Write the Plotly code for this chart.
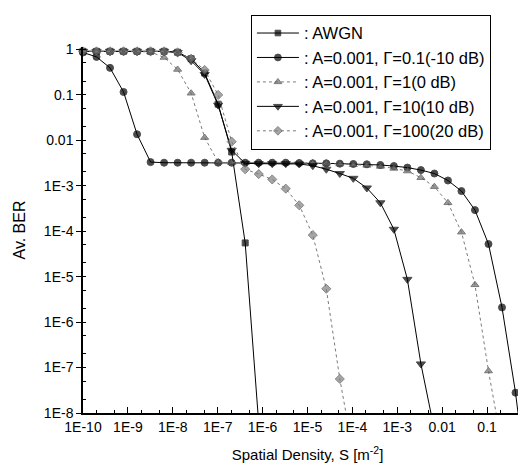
import plotly.graph_objects as go

# Spatial density grid (m^-2)
S = [1e-10, 2e-10, 4e-10, 8e-10, 1.6e-9, 3.2e-9, 6.4e-9, 1.28e-8, 2.56e-8, 5.12e-8,
     1.024e-7, 2.048e-7, 4.096e-7, 8.192e-7, 1.6384e-6, 3.2768e-6, 6.5536e-6, 1.31072e-5,
     2.62144e-5, 5.24288e-5, 1.048576e-4, 2.097152e-4, 4.194304e-4, 8.388608e-4,
     1.6777216e-3, 3.3554432e-3, 6.7108864e-3, 1.34217728e-2, 2.68435456e-2,
     5.36870912e-2, 0.1073741824, 0.2147483648, 0.4294967296, 0.8589934592]

awgn = [0.9, 0.9, 0.9, 0.9, 0.9, 0.9, 0.9, 0.86, 0.62, 0.3, 0.062, 5.5e-3, 5.5e-5, 6e-9]

g01 = [0.85, 0.68, 0.39, 0.115, 0.0135, 3.3e-3, 3.2e-3, 3.2e-3, 3.2e-3, 3.2e-3,
       3.2e-3, 3.2e-3, 3.2e-3, 3.2e-3, 3.2e-3, 3.2e-3, 3.15e-3, 3.1e-3, 3.1e-3, 3.05e-3,
       3.0e-3, 2.95e-3, 2.85e-3, 2.7e-3, 2.5e-3, 2.2e-3, 1.85e-3, 1.3e-3, 7.6e-4,
       2.9e-4, 5.2e-5, 2.1e-6, 2.8e-8, 1.1e-10]

g1 = [0.9, 0.9, 0.9, 0.9, 0.9, 0.88, 0.66, 0.36, 0.108, 0.0114, 3.3e-3, 3.2e-3,
      3.2e-3, 3.2e-3, 3.15e-3, 3.15e-3, 3.15e-3, 3.15e-3, 3.1e-3, 3.0e-3, 2.9e-3,
      2.8e-3, 2.65e-3, 2.4e-3, 2.1e-3, 1.5e-3, 9.5e-4, 4.2e-4, 9.5e-5, 6.6e-6,
      8.4e-8, 1.9e-9]

g10 = [0.9, 0.9, 0.9, 0.9, 0.9, 0.9, 0.9, 0.85, 0.56, 0.28, 0.059, 6.0e-3, 3.1e-3,
       3.05e-3, 3.05e-3, 3.05e-3, 3.0e-3, 2.75e-3, 2.3e-3, 1.85e-3, 1.45e-3, 8.9e-4,
       4.2e-4, 1.1e-4, 8.7e-6, 1.2e-7, 4.2e-9]

g100 = [0.9, 0.9, 0.9, 0.9, 0.9, 0.9, 0.9, 0.85, 0.62, 0.35, 0.099, 9.3e-3, 2.3e-3,
        1.8e-3, 1.37e-3, 8.6e-4, 3.7e-4, 8.2e-5, 5.4e-6, 5.6e-8, 1.3e-9]

x_tickvals = [1e-10, 1e-9, 1e-8, 1e-7, 1e-6, 1e-5, 1e-4, 1e-3, 1e-2, 1e-1]
x_ticktext = ["1E-10", "1E-9", "1E-8", "1E-7", "1E-6", "1E-5", "1E-4", "1E-3", "0.01", "0.1"]
y_tickvals = [1, 0.1, 0.01, 1e-3, 1e-4, 1e-5, 1e-6, 1e-7, 1e-8]
y_ticktext = ["1", "0.1", "0.01", "1E-3", "1E-4", "1E-5", "1E-6", "1E-7", "1E-8"]

G = "Γ"
names = [": AWGN", f": A=0.001, {G}=0.1(-10 dB)", f": A=0.001, {G}=1(0 dB)",
         f": A=0.001, {G}=10(10 dB)", f": A=0.001, {G}=100(20 dB)"]

styles = [
    dict(sym="square", size=6, fill="black", edge="black", lc="black", dash="solid"),
    dict(sym="circle", size=7, fill="black", edge="black", lc="black", dash="solid"),
    dict(sym="triangle-up", size=7, fill="#6e6e6e", edge="#444444", lc="#7a7a7a", dash="dot"),
    dict(sym="triangle-down", size=8, fill="black", edge="black", lc="black", dash="solid"),
    dict(sym="diamond", size=7, fill="#808080", edge="#555555", lc="#7a7a7a", dash="dot"),
]
series = [awgn, g01, g1, g10, g100]

fig = go.Figure()
for i, (vals, st, nm) in enumerate(zip(series, styles, names)):
    xs = S[:len(vals)]
    sizes = [st["size"] if v >= 1e-8 else 0 for v in vals]
    fig.add_trace(go.Scatter(
        x=xs, y=vals, name=nm, mode="lines+markers", legendgroup=str(i),
        cliponaxis=False,
        line=dict(color=st["lc"], width=1, dash=st["dash"]),
        marker=dict(symbol=st["sym"], size=sizes, color=st["fill"],
                    line=dict(color=st["edge"], width=1)),
    ))

font_family = "Liberation Sans, Arial, sans-serif"
fig.update_layout(
    width=526, height=463,
    margin=dict(l=75, r=2, t=39, b=58),
    paper_bgcolor="white", plot_bgcolor="white",
    font=dict(family=font_family, size=13, color="black"),
    showlegend=True,
    legend=dict(x=0.374, y=1.088, xanchor="left", yanchor="top",
                bordercolor="black", borderwidth=1, bgcolor="white",
                font=dict(size=16.5, family=font_family), itemwidth=42,
                tracegroupgap=0),
    xaxis=dict(type="log", range=[-10, 0], showgrid=False, zeroline=False,
               showline=True, linecolor="black", linewidth=1.5,
               tickvals=x_tickvals, ticktext=x_ticktext,
               ticks="inside", ticklen=6, tickcolor="black", tickwidth=1,
               minor=dict(ticks="inside", ticklen=3, tickcolor="black", showgrid=False),
               title=dict(text="Spatial Density, S [m<sup>-2</sup>]", font=dict(size=15), standoff=16),
               tickfont=dict(size=14)),
    yaxis=dict(type="log", range=[-8, 0.05], showgrid=False, zeroline=False,
               showline=True, linecolor="black", linewidth=1.5,
               tickvals=y_tickvals, ticktext=y_ticktext,
               ticks="outside", ticklen=5, tickcolor="black", tickwidth=1,
               minor=dict(ticks="inside", ticklen=3, tickcolor="black", showgrid=False),
               title=dict(text="Av. BER", font=dict(size=16), standoff=14),
               tickfont=dict(size=14)),
)

fig.write_html("out.html")
